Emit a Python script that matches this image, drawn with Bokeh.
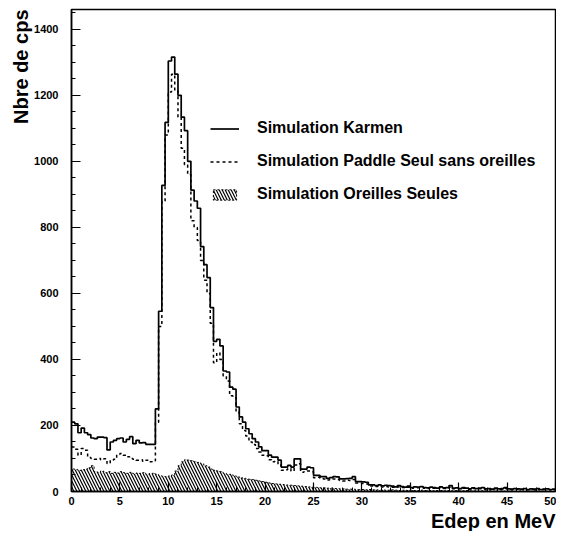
import numpy as np
from bokeh.plotting import figure
from bokeh.models import Legend, LegendItem, SingleIntervalTicker, Range1d, Title
from bokeh.embed import file_html
from bokeh.resources import INLINE

# ---- data (150 bins of 1/3 MeV between 0 and 50 MeV) ----
E_MIN, E_MAX = 0.0, 50.0
Y_MAX = 1460

karmen = [210, 205, 178, 192, 178, 172, 162, 160, 165, 165, 163, 126, 150, 155, 160, 162, 150, 158, 166, 145,
          155, 147, 148, 143, 143, 143,
          250, 546, 927, 1118, 1304, 1316, 1264, 1200, 1134, 1093, 1000, 913, 880, 858, 742, 687, 648, 557, 455,
          461, 441, 365, 362, 316, 310, 256, 226,
          210, 190, 175, 160, 150, 135, 124, 124, 110, 104, 104, 95, 74, 74, 79, 74, 99, 99, 68, 68,
          74, 72, 49, 49, 45, 45, 40, 42, 45, 44, 38, 38, 39, 40, 45, 30, 30, 29, 28, 20, 20, 18, 20, 17, 19, 18,
          16, 14, 18, 15, 13, 16, 12, 14, 13, 15, 12, 11, 13, 12, 10, 14, 11, 12, 18, 10,
          11, 9, 12, 10, 8, 11, 9, 10, 12, 8, 9, 7, 10, 8, 9, 12, 8, 7, 9, 8,
          7, 9, 6, 8, 7, 9, 6, 7, 8, 6, 7]

paddle = [135, 128, 110, 130, 125, 103, 100, 98, 100, 96, 99, 85, 95, 98, 112, 115, 110, 105, 100, 98,
          95, 96, 92, 95, 90, 93,
          210, 500, 880, 1080, 1210, 1264, 1214, 1134, 1040, 990, 960, 820, 800, 760, 700, 640, 600, 510, 390,
          420, 400, 350, 335, 290, 285, 240, 205,
          185, 168, 150, 142, 130, 120, 110, 108, 96, 90, 92, 80, 64, 66, 70, 62, 80, 84, 58, 60,
          62, 60, 42, 43, 40, 38, 35, 37, 38, 36, 33, 32, 34, 33, 36, 26, 25, 24, 23, 17, 17, 15, 16, 14, 15, 14,
          13, 12, 14, 12, 11, 13, 10, 12, 11, 12, 10, 9, 11, 10, 9, 11, 9, 10, 13, 8,
          9, 8, 10, 8, 7, 9, 8, 8, 10, 7, 7, 6, 8, 7, 7, 9, 6, 6, 7, 7,
          6, 7, 5, 6, 6, 7, 5, 6, 6, 5, 5]

oreilles = [68, 66, 64, 66, 68, 72, 78, 60, 58, 62, 57, 60, 55, 58, 56, 60, 57, 55, 58, 54,
            56, 55, 57, 52, 54, 55,
            52, 48, 46, 45, 47, 50, 62, 78, 90, 96, 95, 93, 90, 88, 84, 78, 74, 68, 64, 62,
            60, 55, 52, 52, 48, 45, 42, 40, 38, 37, 36, 34, 32, 30, 28, 26, 24, 23, 22, 21,
            20, 19, 19, 18, 17, 16, 15, 14, 13, 13, 12, 11, 11, 10, 10, 9, 9, 8, 8, 7,
            7, 7, 6, 6, 6,
            5, 6, 5, 5, 4, 5, 4, 4, 5, 4, 3, 4, 4, 3, 4, 3, 3, 4, 3, 3,
            3, 2, 3, 3, 2, 3, 2, 2, 3, 2, 2, 3, 2, 2, 2, 1, 2, 2, 2, 1,
            2, 1, 2, 1, 1, 2, 1, 1, 2, 1, 1, 1, 2, 1, 1, 1, 1, 1, 1]

legend_labels = ["Simulation Karmen",
                 "Simulation Paddle Seul sans oreilles",
                 "Simulation Oreilles Seules"]
x_title = "Edep en MeV"
y_title = "Nbre de cps"

# ---- build step outlines from the bin contents ----
n_bins = len(karmen)
edges = np.linspace(E_MIN, E_MAX, n_bins + 1)


def stairs(vals):
    xs = np.repeat(edges, 2)[1:-1]
    ys = np.repeat(np.asarray(vals, dtype=float), 2)
    return xs, ys


kx, ky = stairs(karmen)
px_, py_ = stairs(paddle)
ox, oy = stairs(oreilles)
ox_patch = np.concatenate([[edges[0]], ox, [edges[-1]]])
oy_patch = np.concatenate([[0.0], oy, [0.0]])

FONT = "Liberation Sans"

p = figure(width=556, height=531,
           x_range=Range1d(E_MIN, E_MAX), y_range=Range1d(0, Y_MAX),
           output_backend="svg", toolbar_location=None,
           min_border_left=71, min_border_right=1,
           min_border_top=9, min_border_bottom=38)

p.background_fill_color = "white"
p.border_fill_color = "white"
p.outline_line_color = "black"
p.outline_line_width = 1.5
p.xgrid.visible = False
p.ygrid.visible = False

r_o = p.patch(ox_patch, oy_patch, fill_alpha=0, hatch_pattern="\\", hatch_color="black",
              hatch_scale=6, hatch_weight=1.2, line_color="black", line_width=1, line_dash="2 2")
r_p = p.line(px_, py_, line_color="black", line_width=1.5, line_dash="3 3")
r_k = p.line(kx, ky, line_color="black", line_width=1.7)

p.xaxis.ticker = SingleIntervalTicker(interval=5, num_minor_ticks=5)
p.yaxis.ticker = SingleIntervalTicker(interval=200, num_minor_ticks=4)
for ax in (p.xaxis[0], p.yaxis[0]):
    ax.major_tick_in = 9
    ax.major_tick_out = 0
    ax.minor_tick_in = 4
    ax.minor_tick_out = 0
    ax.axis_line_width = 1.5
    ax.major_tick_line_width = 1.2
    ax.minor_tick_line_width = 1
    ax.major_label_text_font = FONT
    ax.major_label_text_font_style = "bold"
    ax.major_label_text_font_size = "11px"
    ax.major_label_text_color = "black"
p.yaxis.major_label_standoff = 13
p.xaxis.major_label_standoff = 5

legend = Legend(items=[LegendItem(label=legend_labels[0], renderers=[r_k]),
                       LegendItem(label=legend_labels[1], renderers=[r_p]),
                       LegendItem(label=legend_labels[2], renderers=[r_o])],
                location=(139, 287),
                border_line_alpha=0, background_fill_alpha=0,
                label_text_font=FONT, label_text_font_style="bold",
                label_text_font_size="16px", label_text_color="black",
                glyph_width=29, glyph_height=13, label_height=20,
                label_standoff=18, spacing=13, padding=0, margin=0)
p.add_layout(legend)

p.add_layout(Title(text=x_title, align="right", text_font=FONT, text_font_style="bold",
                   text_font_size="20px", text_color="black", standoff=0, offset=0), "below")
p.add_layout(Title(text=y_title, align="right", text_font=FONT, text_font_style="bold",
                   text_font_size="20px", text_color="black", standoff=0, offset=0), "left")

open("out.html", "w").write(file_html(p, INLINE))
